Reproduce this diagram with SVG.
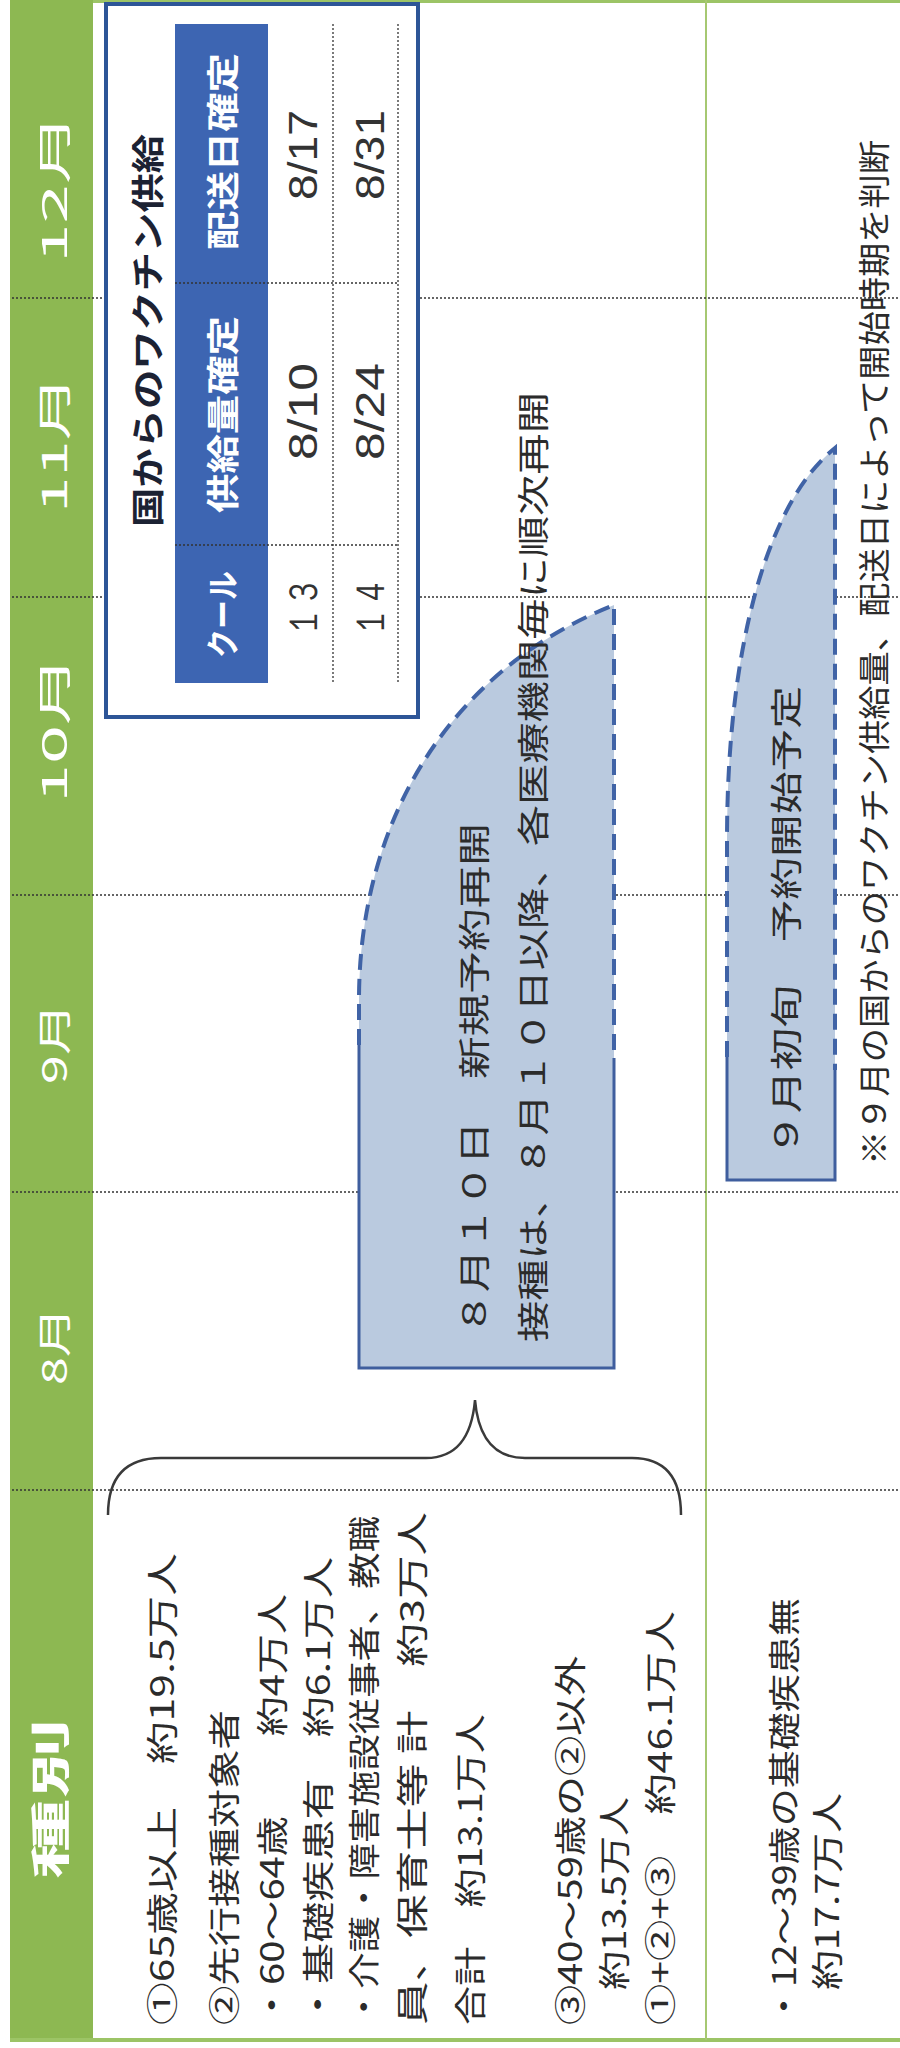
<svg xmlns="http://www.w3.org/2000/svg" width="900" height="2048" viewBox="0 0 900 2048">
<style>
text { font-family: "Noto Sans CJK JP", "Noto Sans", sans-serif; dominant-baseline: central; }
.body { font-size: 32px; fill: #2b2b2b; }
.mon { font-size: 34px; fill: #ffffff; }
.hd { font-size: 33px; fill: #ffffff; font-weight: 700; }
.ttl { font-size: 33px; fill: #1c2233; font-weight: 700; }
.num { font-size: 40px; fill: #333333; font-family: "Liberation Sans", "Noto Sans", sans-serif; }
.dot { stroke: #333333; stroke-width: 1.3; stroke-dasharray: 2 2; fill: none; }
.blobfill { fill: #bacadf; stroke: none; }
.dash { fill: none; stroke: #4063a6; stroke-width: 4; stroke-dasharray: 16 9; }
.solid { fill: none; stroke: #3f5e9e; stroke-width: 3; }
</style>

<rect x="0" y="0" width="900" height="2048" fill="#ffffff"/>

<g id="frame">
  <rect x="10" y="0" width="83" height="2042" fill="#8db852"/>
  <rect x="93" y="0" width="807" height="3" fill="#9cc466"/>
  <rect x="10" y="2038" width="890" height="4" fill="#9cc466"/>
  <line x1="706" y1="0" x2="706" y2="2040" stroke="#a6c872" stroke-width="2"/>
</g>

<g id="grid">
  <line class="dot" x1="12" y1="298" x2="900" y2="298"/>
  <line class="dot" x1="12" y1="597" x2="900" y2="597"/>
  <line class="dot" x1="12" y1="895" x2="900" y2="895"/>
  <line class="dot" x1="12" y1="1192" x2="900" y2="1192"/>
  <line class="dot" x1="12" y1="1490" x2="900" y2="1490"/>
</g>

<g id="month-labels">
  <text class="mon" transform="translate(52,263) rotate(-90)" textLength="150" lengthAdjust="spacingAndGlyphs">12月</text>
  <text class="mon" transform="translate(52,513) rotate(-90)" textLength="138" lengthAdjust="spacingAndGlyphs">11月</text>
  <text class="mon" transform="translate(52,803) rotate(-90)" textLength="148" lengthAdjust="spacingAndGlyphs">10月</text>
  <text class="mon" transform="translate(52,1084) rotate(-90)" textLength="81" lengthAdjust="spacingAndGlyphs">9月</text>
  <text class="mon" transform="translate(52,1385) rotate(-90)" textLength="78" lengthAdjust="spacingAndGlyphs">8月</text>
  <text class="mon" style="font-weight:700;font-size:40px" transform="translate(48,1879) rotate(-90)" textLength="161" lengthAdjust="spacingAndGlyphs">種別</text>
</g>

<g id="supply-table">
  <rect x="106" y="4" width="312" height="713" fill="#ffffff" stroke="#2d5597" stroke-width="4"/>
  <rect x="175" y="24" width="93" height="659" fill="#3d65b2"/>
  <line class="dot" x1="333" y1="24" x2="333" y2="683"/>
  <line class="dot" x1="398" y1="24" x2="398" y2="683"/>
  <line class="dot" x1="175" y1="283" x2="398" y2="283"/>
  <line class="dot" x1="175" y1="545" x2="398" y2="545"/>
  <text class="ttl" transform="translate(146,527) rotate(-90)" textLength="393" lengthAdjust="spacingAndGlyphs">国からのワクチン供給</text>
  <text class="hd" transform="translate(221,250) rotate(-90)" textLength="197" lengthAdjust="spacingAndGlyphs">配送日確定</text>
  <text class="hd" transform="translate(221,513) rotate(-90)" textLength="197" lengthAdjust="spacingAndGlyphs">供給量確定</text>
  <text class="hd" transform="translate(221,658) rotate(-90)" textLength="87" lengthAdjust="spacingAndGlyphs">クール</text>
  <text class="num" transform="translate(303,200) rotate(-90)" textLength="90" lengthAdjust="spacingAndGlyphs">8/17</text>
  <text class="num" transform="translate(370,200) rotate(-90)" textLength="90" lengthAdjust="spacingAndGlyphs">8/31</text>
  <text class="num" transform="translate(303,460) rotate(-90)" textLength="97" lengthAdjust="spacingAndGlyphs">8/10</text>
  <text class="num" transform="translate(370,460) rotate(-90)" textLength="97" lengthAdjust="spacingAndGlyphs">8/24</text>
  <text class="num" transform="translate(303,637) rotate(-90)" textLength="60" lengthAdjust="spacingAndGlyphs">１３</text>
  <text class="num" transform="translate(370,637) rotate(-90)" textLength="60" lengthAdjust="spacingAndGlyphs">１４</text>
</g>

<g id="blob-aug">
  <path class="blobfill" d="M359,1368 L359,1000 C359,820 450,670 614,605 L614,1368 Z"/>
  <path class="dash" d="M359,1045 L359,1000 C359,820 450,670 614,605 L614,1058"/>
  <path class="solid" d="M359,1045 L359,1368 L614,1368 L614,1058"/>
</g>

<g id="blob-sep">
  <path class="blobfill" d="M727,1180 L727,840 C727,640 770,500 835,448 L835,1180 Z"/>
  <path class="dash" d="M727,1057 L727,840 C727,640 770,500 835,448 L835,1070"/>
  <path class="solid" d="M727,1057 L727,1180 L835,1180 L835,1070"/>
</g>

<g id="connectors">
  <path d="M108,1515 Q108,1458 161,1458 L426,1458 Q470,1458 475,1400 Q480,1458 525,1458 L632,1458 Q681,1458 681,1515" fill="none" stroke="#3a3a3a" stroke-width="2.5"/>
</g>

<g id="schedule-text">
  <text class="body" transform="translate(472,1335) rotate(-90)" textLength="512" lengthAdjust="spacingAndGlyphs">８月１０日　新規予約再開</text>
  <text class="body" transform="translate(531,1342) rotate(-90)" textLength="950" lengthAdjust="spacingAndGlyphs">接種は、８月１０日以降、各医療機関毎に順次再開</text>
  <text class="body" transform="translate(784,1156) rotate(-90)" textLength="470" lengthAdjust="spacingAndGlyphs">９月初旬　予約開始予定</text>
  <text class="body" transform="translate(872,1165) rotate(-90)" textLength="1025" lengthAdjust="spacingAndGlyphs">※９月の国からのワクチン供給量、配送日によって開始時期を判断</text>
</g>

<g id="categories">
  <text class="body" transform="translate(160,2025) rotate(-90)" textLength="472" lengthAdjust="spacingAndGlyphs">①65歳以上　約19.5万人</text>
  <text class="body" transform="translate(222,2025) rotate(-90)" textLength="315" lengthAdjust="spacingAndGlyphs">②先行接種対象者</text>
  <text class="body" transform="translate(270,2025) rotate(-90)" textLength="431" lengthAdjust="spacingAndGlyphs">・60～64歳　　約4万人</text>
  <text class="body" transform="translate(316,2025) rotate(-90)" textLength="468" lengthAdjust="spacingAndGlyphs">・基礎疾患有　約6.1万人</text>
  <text class="body" transform="translate(362,2025) rotate(-90)" textLength="509" lengthAdjust="spacingAndGlyphs">・介護・障害施設従事者、教職</text>
  <text class="body" transform="translate(410,2025) rotate(-90)" textLength="513" lengthAdjust="spacingAndGlyphs">員、保育士等 計　約3万人</text>
  <text class="body" transform="translate(468,2025) rotate(-90)" textLength="311" lengthAdjust="spacingAndGlyphs">合計　約13.1万人</text>
  <text class="body" transform="translate(568,2025) rotate(-90)" textLength="369" lengthAdjust="spacingAndGlyphs">③40～59歳の②以外</text>
  <text class="body" transform="translate(612,1990) rotate(-90)" textLength="193" lengthAdjust="spacingAndGlyphs">約13.5万人</text>
  <text class="body" transform="translate(658,2025) rotate(-90)" textLength="414" lengthAdjust="spacingAndGlyphs">①+②+③　約46.1万人</text>
  <text class="body" transform="translate(782,2025) rotate(-90)" textLength="427" lengthAdjust="spacingAndGlyphs">・12～39歳の基礎疾患無</text>
  <text class="body" transform="translate(825,1990) rotate(-90)" textLength="197" lengthAdjust="spacingAndGlyphs">約17.7万人</text>
</g>
</svg>
